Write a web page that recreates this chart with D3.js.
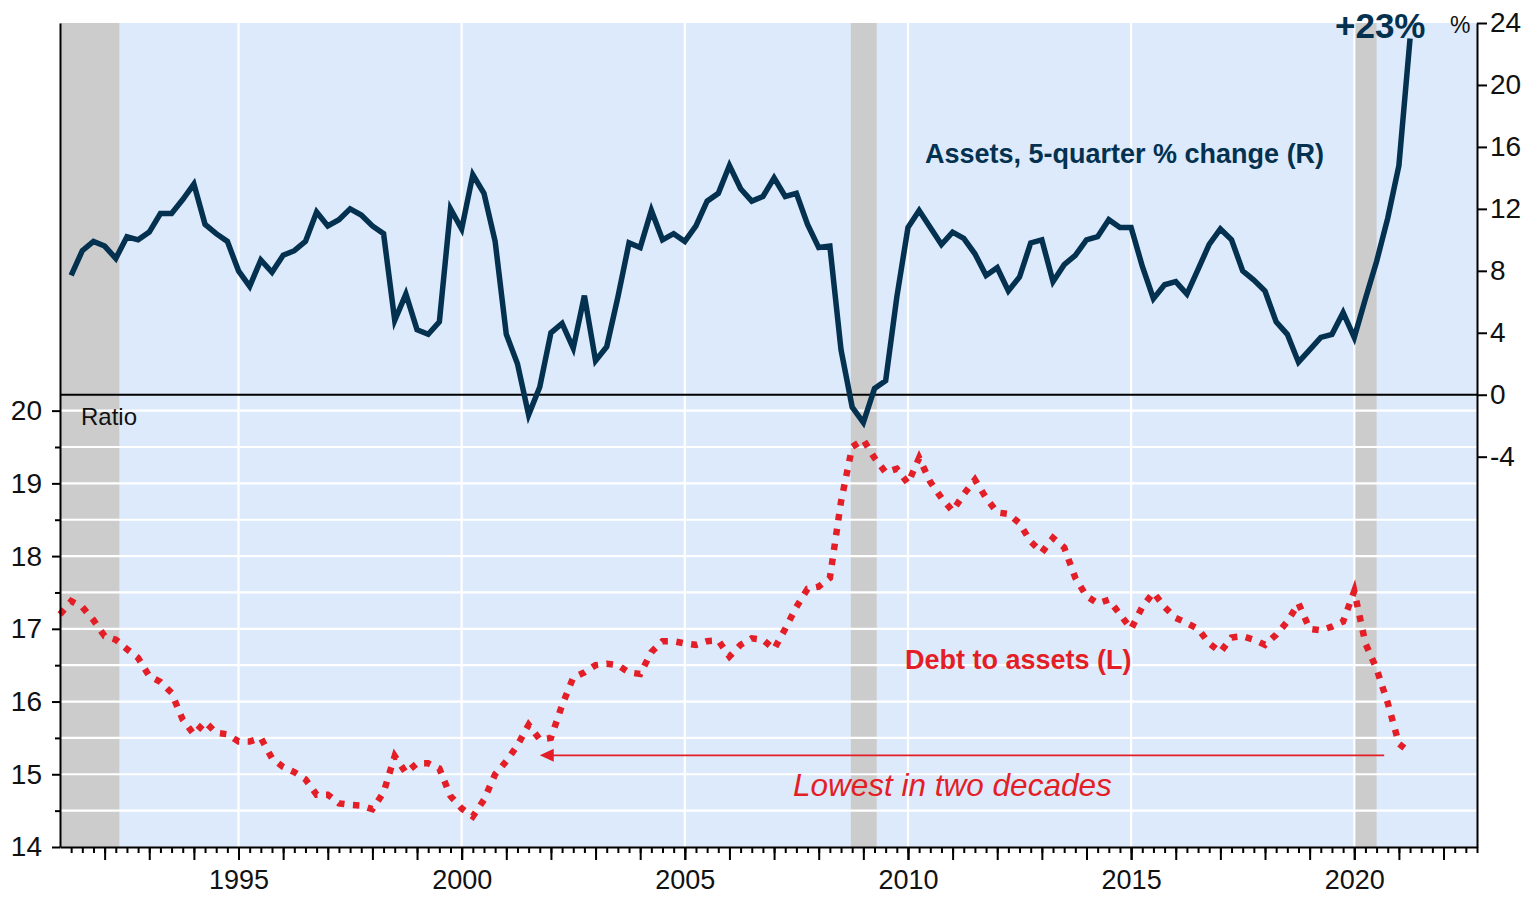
<!DOCTYPE html>
<html>
<head>
<meta charset="utf-8">
<script src="https://cdn.jsdelivr.net/npm/d3@7"></script>
<style>
  html, body { margin: 0; padding: 0; background: #fff; }
  svg { display: block; font-family: "Liberation Sans", Arial, sans-serif; }
</style>
</head>
<body>
<div id="chart"></div>
<script>
// Quarterly series (x = start + index * 0.25)
const assetsStart = 1991.25;
const assetsPct = [
  7.7, 9.3, 9.9,
  9.6, 8.8, 10.2, 10.0,
  10.5, 11.7, 11.7, 12.6,
  13.6, 11.0, 10.4, 9.9,
  8.0, 7.0, 8.7, 7.9,
  9.0, 9.3, 9.9, 11.8,
  10.9, 11.3, 12.0, 11.6,
  10.9, 10.4, 4.8, 6.5,
  4.2, 3.9, 4.7, 12.0,
  10.7, 14.2, 13.0, 9.9,
  3.9, 2.0, -1.3, 0.5,
  4.0, 4.6, 3.0, 6.4,
  2.2, 3.1, 6.3, 9.8,
  9.5, 11.9, 10.0, 10.4,
  9.9, 10.9, 12.5, 13.0,
  14.8, 13.3, 12.5, 12.8,
  14.0, 12.8, 13.0, 11.0,
  9.5, 9.6, 2.9, -0.8,
  -1.8, 0.4, 0.9, 6.3,
  10.8, 11.9, 10.8, 9.7,
  10.5, 10.1, 9.1, 7.7,
  8.2, 6.7, 7.6, 9.8,
  10.0, 7.3, 8.4, 9.0,
  10.0, 10.2, 11.3, 10.8,
  10.8, 8.3, 6.2, 7.1,
  7.3, 6.5, 8.1, 9.7,
  10.7, 10.0, 8.0, 7.4,
  6.7, 4.7, 3.9, 2.1,
  2.9, 3.7, 3.9, 5.3,
  3.7, 6.2, 8.6, 11.4,
  14.8, 23.0
];

const debtStart = 1991.0;
const debtRatio = [
  17.2, 17.38, 17.3, 17.12,
  16.9, 16.85, 16.72, 16.6,
  16.35, 16.27, 16.12, 15.75,
  15.55, 15.72, 15.57, 15.55,
  15.45, 15.45, 15.5, 15.22,
  15.1, 15.03, 14.93, 14.72,
  14.72, 14.6, 14.58, 14.57,
  14.52, 14.75, 15.25, 15.02,
  15.15, 15.15, 15.08, 14.7,
  14.53, 14.42, 14.65, 15.0,
  15.18, 15.4, 15.68, 15.48,
  15.5, 15.95, 16.33, 16.4,
  16.5, 16.52, 16.5, 16.4,
  16.38, 16.68, 16.83, 16.83,
  16.8, 16.78, 16.83, 16.84,
  16.62, 16.78, 16.87, 16.85,
  16.72, 17.0, 17.3, 17.55,
  17.58, 17.7, 18.75, 19.5,
  19.6, 19.35, 19.15, 19.2,
  19.0, 19.35, 19.02, 18.8,
  18.62, 18.85, 19.05, 18.8,
  18.6, 18.58, 18.45, 18.2,
  18.05, 18.25, 18.12, 17.7,
  17.45, 17.35, 17.4, 17.2,
  17.0, 17.3, 17.5, 17.3,
  17.15, 17.08, 17.0, 16.8,
  16.68, 16.88, 16.9, 16.85,
  16.78, 16.92, 17.1, 17.35,
  17.0, 16.98, 17.03, 17.1,
  17.52, 16.8, 16.45, 15.98,
  15.42, 15.3
];

// Recession periods (shaded)
const recessions = [[1991.0, 1992.33], [2008.72, 2009.3], [2019.98, 2020.5]];

// Axis ticks
const yearLabels = [1995, 2000, 2005, 2010, 2015, 2020];
const leftTicks = [14, 15, 16, 17, 18, 19, 20];
const leftMinorTicks = [14.5, 15.5, 16.5, 17.5, 18.5, 19.5];
const leftGrid = [14.5, 15, 15.5, 16, 16.5, 17, 17.5, 18, 18.5, 19, 19.5, 20];
const rightTicks = [-4, 0, 4, 8, 12, 16, 20, 24];

// Annotation: arrow back to the last comparable low
const lowestLevel = 15.26;
const arrowFrom = 2020.67;
const arrowTo = 2001.75;

const colors = {
  bg: '#ddeafb',
  recession: '#cccccc',
  navy: '#03314f',
  red: '#e31e26',
  axis: '#000000',
  text: '#111111'
};

const W = 1538, H = 897;
const plot = { left: 60, right: 1477, top: 23, bottom: 847 };

const svg = d3.select('#chart').append('svg')
  .attr('width', W)
  .attr('height', H);

svg.append('rect').attr('width', W).attr('height', H).attr('fill', '#fff');

// Scales
const x = d3.scaleLinear().domain([1991, 2022.75]).range([plot.left, plot.right]);
const yL = d3.scaleLinear().domain([14, 25.33]).range([plot.bottom, plot.top]);
const yR = d3.scaleLinear().domain([-29.2, 24]).range([plot.bottom, plot.top]);

// Plot background
svg.append('rect')
  .attr('x', plot.left).attr('y', plot.top)
  .attr('width', plot.right - plot.left)
  .attr('height', plot.bottom - plot.top)
  .attr('fill', colors.bg);

// Recession bars
svg.selectAll('.rec')
  .data(recessions)
  .enter().append('rect')
  .attr('x', d => x(d[0]))
  .attr('width', d => x(d[1]) - x(d[0]))
  .attr('y', plot.top)
  .attr('height', plot.bottom - plot.top)
  .attr('fill', colors.recession);

// Gridlines
svg.selectAll('.hgrid')
  .data(leftGrid)
  .enter().append('line')
  .attr('x1', plot.left).attr('x2', plot.right)
  .attr('y1', d => yL(d)).attr('y2', d => yL(d))
  .attr('stroke', '#fff').attr('stroke-width', 2.2);

svg.selectAll('.vgrid')
  .data(yearLabels)
  .enter().append('line')
  .attr('x1', d => x(d)).attr('x2', d => x(d))
  .attr('y1', plot.top).attr('y2', plot.bottom)
  .attr('stroke', '#fff').attr('stroke-width', 2.2);

// Zero line of right axis
svg.append('line')
  .attr('x1', plot.left).attr('x2', plot.right)
  .attr('y1', yR(0)).attr('y2', yR(0))
  .attr('stroke', colors.axis).attr('stroke-width', 2);

// Debt to assets (left axis), dotted
const debtLine = d3.line()
  .x((d, i) => x(debtStart + i * 0.25))
  .y(d => yL(d));

svg.append('path')
  .datum(debtRatio)
  .attr('fill', 'none')
  .attr('stroke', colors.red)
  .attr('stroke-width', 6.5)
  .attr('stroke-dasharray', '6.5,8.5')
  .attr('d', debtLine);

// Assets % change (right axis)
const assetsLine = d3.line()
  .x((d, i) => x(assetsStart + i * 0.25))
  .y(d => yR(d));

svg.append('path')
  .datum(assetsPct)
  .attr('fill', 'none')
  .attr('stroke', colors.navy)
  .attr('stroke-width', 5.5)
  .attr('stroke-linejoin', 'miter')
  .attr('d', assetsLine);

// Arrow annotation
const ay = yL(lowestLevel);
svg.append('line')
  .attr('x1', x(arrowFrom)).attr('x2', x(arrowTo) + 10)
  .attr('y1', ay).attr('y2', ay)
  .attr('stroke', colors.red).attr('stroke-width', 1.6);

svg.append('path')
  .attr('d', `M${x(arrowTo)},${ay} L${x(arrowTo) + 14},${ay - 6.5} L${x(arrowTo) + 14},${ay + 6.5} Z`)
  .attr('fill', colors.red);

// Axes
function styleAxis(g, size) {
  g.selectAll('path, line').attr('stroke', colors.axis).attr('stroke-width', 2);
  g.selectAll('text')
    .attr('fill', colors.text)
    .attr('font-size', size + 'px')
    .attr('font-family', '"Liberation Sans", Arial, sans-serif');
}

const plainNum = d => String(d);

// Left axis
const leftAxis = svg.append('g')
  .attr('transform', `translate(${plot.left},0)`)
  .call(d3.axisLeft(yL).tickValues(leftTicks).tickSize(8).tickSizeOuter(0).tickPadding(10).tickFormat(plainNum));
styleAxis(leftAxis, 28);

const leftMinor = svg.append('g')
  .attr('transform', `translate(${plot.left},0)`)
  .call(d3.axisLeft(yL).tickValues(leftMinorTicks).tickSize(5).tickFormat(''));
leftMinor.select('.domain').remove();
styleAxis(leftMinor, 28);

// Right axis
const rightAxis = svg.append('g')
  .attr('transform', `translate(${plot.right},0)`)
  .call(d3.axisRight(yR).tickValues(rightTicks).tickSize(10).tickSizeOuter(0).tickPadding(3).tickFormat(plainNum));
styleAxis(rightAxis, 28);

// Bottom axis: quarterly, yearly, labels
const quarterTicks = d3.range(1991.25, 2022.76, 0.25);
const yearTicks = d3.range(1992, 2023, 1);

const bottomQ = svg.append('g')
  .attr('transform', `translate(0,${plot.bottom})`)
  .call(d3.axisBottom(x).tickValues(quarterTicks).tickSize(6).tickSizeOuter(0).tickFormat(''));
styleAxis(bottomQ, 28);

const bottomY = svg.append('g')
  .attr('transform', `translate(0,${plot.bottom})`)
  .call(d3.axisBottom(x).tickValues(yearTicks).tickSize(13).tickFormat(''));
bottomY.select('.domain').remove();
styleAxis(bottomY, 28);

const bottomLabels = svg.append('g')
  .attr('transform', `translate(0,${plot.bottom})`)
  .call(d3.axisBottom(x).tickValues(yearLabels).tickSize(13).tickPadding(10).tickFormat(plainNum));
bottomLabels.select('.domain').remove();
styleAxis(bottomLabels, 27);

// Texts
svg.append('text')
  .attr('x', 81).attr('y', 425)
  .attr('fill', colors.text)
  .attr('font-size', '24px')
  .text('Ratio');

svg.append('text')
  .attr('x', 1450).attr('y', 33)
  .attr('fill', colors.text)
  .attr('font-size', '23px')
  .text('%');

svg.append('text')
  .attr('x', 1335).attr('y', 38)
  .attr('fill', colors.navy)
  .attr('font-size', '35px')
  .style('font-weight', 'bold')
  .text('+23%');

svg.append('text')
  .attr('x', 925).attr('y', 163)
  .attr('fill', colors.navy)
  .attr('font-size', '27px')
  .style('font-weight', 'bold')
  .text('Assets, 5-quarter % change (R)');

svg.append('text')
  .attr('x', 905).attr('y', 669)
  .attr('fill', colors.red)
  .attr('font-size', '27px')
  .style('font-weight', 'bold')
  .text('Debt to assets (L)');

svg.append('text')
  .attr('x', 793).attr('y', 796)
  .attr('fill', colors.red)
  .attr('font-size', '31.5px')
  .style('font-style', 'italic')
  .text('Lowest in two decades');
</script>
</body>
</html>
